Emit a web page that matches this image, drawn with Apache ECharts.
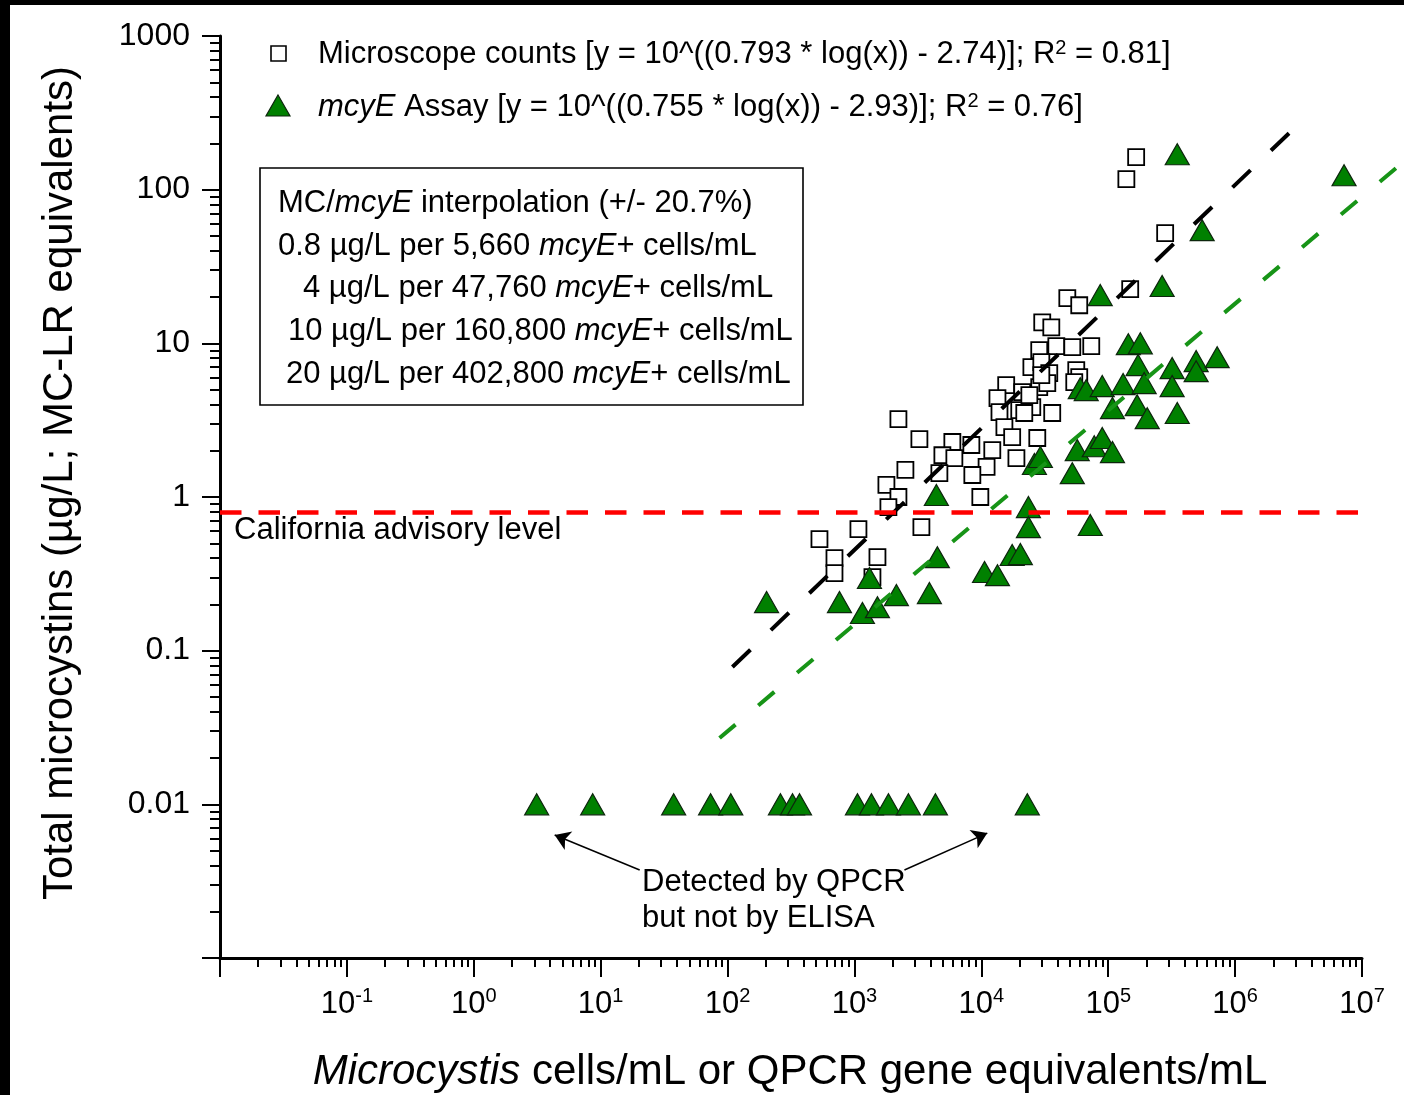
<!DOCTYPE html>
<html><head><meta charset="utf-8">
<script src="https://cdn.jsdelivr.net/npm/echarts@6/dist/echarts.min.js"></script>
<style>html,body{margin:0;padding:0;background:#fff}#c{width:1404px;height:1095px}</style>
</head><body><div id="c"></div>
<script>
const FONT = '"Liberation Sans", Arial, Helvetica, sans-serif';

// Microscope counts: cells/mL vs total microcystins (µg/L)
const squareX = [1.66e5, 1.39e5, 2.81e5, 1.49e5, 4.76e4, 5.91e4, 3.02e4, 3.56e4, 2.86e4, 3.90e4, 5.21e4, 7.35e4, 2.48e4, 2.97e4, 3.43e4, 5.60e4, 5.91e4, 5.40e4, 1.57e4, 1.34e4, 2.10e4, 2.86e4, 1.39e4, 1.99e4, 2.52e4, 2.18e4, 3.62e4, 1.52e4, 1.75e4, 2.76e4, 1.22e4, 1.89e4, 1.10e4, 2221, 3250, 2521, 1786, 2221, 1852, 5910, 4932, 6130, 8343, 4670, 8494, 9820, 3.31e4, 2.97e4, 530, 696, 696, 1075, 1518, 1386, 3370, 2.39e4];
const squareY = [163, 117, 52.1, 22.5, 19.7, 17.7, 13.7, 12.7, 9.03, 9.59, 9.45, 9.59, 7.00, 7.55, 6.40, 6.69, 6.03, 5.59, 5.35, 4.40, 4.81, 5.19, 3.57, 3.68, 3.85, 3.52, 3.52, 2.85, 2.45, 2.42, 2.02, 1.79, 1.57, 3.21, 2.38, 1.50, 1.20, 1.00, 0.86, 2.28, 1.87, 1.79, 2.18, 1.43, 1.39, 1.00, 5.51, 6.21, 0.532, 0.400, 0.320, 0.618, 0.406, 0.301, 0.637, 4.60];

// mcyE assay: QPCR gene equivalents/mL vs total microcystins (µg/L)
const triX = [3.50e5, 7.22e6, 5.50e5, 2.66e5, 8.65e4, 1.44e5, 1.79e5, 1.72e5, 3.19e5, 4.93e5, 7.22e5, 4.93e5, 6.02e4, 6.71e4, 8.97e4, 1.31e5, 1.92e5, 3.19e5, 1.08e5, 1.69e5, 2.03e5, 3.50e5, 5.70e4, 7.76e4, 8.97e4, 1.08e5, 2.62e4, 2.92e4, 5.21e4, 203, 762, 1313, 1156, 1518, 2141, 3896, 4503, 4423, 1.06e4, 1.34e4, 1.75e4, 2.03e4, 2.35e4, 2.35e4, 7.22e4];
const triY = [170, 124, 54.5, 23.6, 20.6, 9.88, 10.0, 7.22, 6.90, 7.66, 8.13, 6.59, 5.11, 4.96, 5.27, 5.43, 5.51, 5.27, 3.79, 3.96, 3.26, 3.52, 2.02, 2.14, 2.42, 1.96, 1.64, 1.82, 1.43, 0.207, 0.207, 0.297, 0.176, 0.192, 0.230, 0.237, 0.406, 1.03, 0.325, 0.310, 0.419, 0.425, 0.86, 0.637, 0.657];

// Detected by QPCR but not by ELISA (plotted at 0.01)
const ndX = [3.13, 8.65, 37.6, 73.5, 106, 261, 325, 369, 1056, 1361, 1853, 2662, 4345, 23030];
const ndY = [0.01, 0.01, 0.01, 0.01, 0.01, 0.01, 0.01, 0.01, 0.01, 0.01, 0.01, 0.01, 0.01, 0.01];

// Regression lines (end points as drawn; listed from the upper end)
const fitMicroX = [2.66e6, 109];
const fitMicroY = [233, 0.0782];
const fitMcyEX = [1.85e7, 86.5];
const fitMcyEY = [138, 0.027];

const advisoryLevel = 0.8;

// Annotation arrows (from text to points)
const arrowStart = [[20.3, 0.00374], [2477, 0.00374]];
const arrowEnd = [[4.34, 0.00631], [11140, 0.0065]];

// Ticks
const xTickValues = [0.01, 0.1, 1, 10, 100, 1000, 1e4, 1e5, 1e6, 1e7];
const xTickLabels = ['', '-1', '0', '1', '2', '3', '4', '5', '6', '7'];
const yTickValues = [0.001, 0.01, 0.1, 1, 10, 100, 1000];
const yTickLabels = ['', '0.01', '0.1', '1', '10', '100', '1000'];

function minorOf(vals) {
  const out = [];
  for (let i = 0; i < vals.length - 1; i++) {
    for (let k = 2; k <= 9; k++) out.push(parseFloat((k * vals[i]).toPrecision(6)));
  }
  return out;
}
const xMinor = minorOf(xTickValues);
const yMinor = minorOf(yTickValues);

function findIdx(vals, v) {
  let best = 0, bd = Infinity;
  for (let i = 0; i < vals.length; i++) {
    const d = Math.abs(Math.log10(vals[i]) - Math.log10(v));
    if (d < bd) { bd = d; best = i; }
  }
  return bd < 1e-3 ? best : -1;
}

const zip = (a, b) => a.map((x, i) => [x, b[i]]);

const chart = echarts.init(document.getElementById('c'), null, {renderer: 'canvas'});

const TXT = 31;
const rich = {
  n: {fontSize: TXT, fontFamily: FONT, fill: '#000', color: '#000'},
  i: {fontSize: TXT, fontFamily: FONT, fontStyle: 'italic', fill: '#000', color: '#000'},
  s: {fontSize: 20, fontFamily: FONT, fill: '#000', color: '#000', verticalAlign: 'top', lineHeight: 20}
};
function txt(x, y, text, extra) {
  return Object.assign({
    type: 'text', x: x, y: y, silent: true,
    style: {text: text, rich: rich, fontSize: TXT, fontFamily: FONT, fill: '#000',
            align: 'left', verticalAlign: 'middle', textAlign: 'left', textVerticalAlign: 'middle'}
  }, extra || {});
}

const triStyle = {color: '#008000', borderColor: '#0d260d', borderWidth: 1.2, opacity: 1};

// draws a fitted segment between two data points through the axis scales
function segmentRenderer(color, dash) {
  return function (params, api) {
    const p1 = api.coord([api.value(0), api.value(1)]);
    const p2 = api.coord([api.value(2), api.value(3)]);
    return {
      type: 'line',
      shape: {x1: p1[0], y1: p1[1], x2: p2[0], y2: p2[1]},
      style: {stroke: color, lineWidth: 4, lineDash: dash, fill: null}
    };
  };
}

const option = {
  animation: false,
  backgroundColor: '#fff',
  textStyle: {fontFamily: FONT},
  grid: {left: 220, right: 42, top: 36, bottom: 137, containLabel: false, outerBoundsMode: 'none'},
  xAxis: [
    {
      type: 'log', logBase: 10, min: 0.01, max: 1e7, position: 'bottom',
      axisLine: {show: true, onZero: false, lineStyle: {color: '#000', width: 3}},
      axisTick: {show: true, inside: false, length: 19, customValues: xTickValues, lineStyle: {color: '#000', width: 2}},
      axisLabel: {
        show: true, customValues: xTickValues, margin: 28, showMinLabel: true, showMaxLabel: true,
        formatter: function (v) {
          const i = findIdx(xTickValues, v);
          if (i < 0 || xTickLabels[i] === '') return '';
          return '{b|10}{s|' + xTickLabels[i] + '}';
        },
        rich: {
          b: {fontSize: 31, fontFamily: FONT, color: '#000', lineHeight: 36},
          s: {fontSize: 20, fontFamily: FONT, color: '#000', lineHeight: 18, verticalAlign: 'top'}
        }
      },
      splitLine: {show: false}, minorTick: {show: false}, minorSplitLine: {show: false}
    },
    {
      type: 'log', logBase: 10, min: 0.01, max: 1e7, position: 'bottom',
      axisLine: {show: false, onZero: false},
      axisTick: {show: true, inside: false, length: 9, customValues: xMinor, lineStyle: {color: '#000', width: 2}},
      axisLabel: {show: false},
      splitLine: {show: false}
    }
  ],
  yAxis: [
    {
      type: 'log', logBase: 10, min: 0.001, max: 1000, position: 'left',
      axisLine: {show: true, onZero: false, lineStyle: {color: '#000', width: 3}},
      axisTick: {show: true, inside: false, length: 18, customValues: yTickValues, lineStyle: {color: '#000', width: 2}},
      axisLabel: {
        show: true, customValues: yTickValues, margin: 30, showMinLabel: true, showMaxLabel: true,
        fontSize: 32, fontFamily: FONT, color: '#000',
        formatter: function (v) {
          const i = findIdx(yTickValues, v);
          return i < 0 ? '' : yTickLabels[i];
        }
      },
      splitLine: {show: false}, minorTick: {show: false}
    },
    {
      type: 'log', logBase: 10, min: 0.001, max: 1000, position: 'left',
      axisLine: {show: false, onZero: false},
      axisTick: {show: true, inside: false, length: 10, customValues: yMinor, lineStyle: {color: '#000', width: 2}},
      axisLabel: {show: false},
      splitLine: {show: false}
    }
  ],
  series: [
    {
      name: 'Microscope counts', type: 'scatter', xAxisIndex: 0, yAxisIndex: 0,
      data: zip(squareX, squareY), symbol: 'rect', symbolSize: 16,
      itemStyle: {color: '#fff', borderColor: '#000', borderWidth: 1.8, opacity: 1}, z: 3
    },
    {
      name: 'mcyE Assay', type: 'scatter', xAxisIndex: 0, yAxisIndex: 0,
      data: zip(triX, triY), symbol: 'triangle', symbolSize: [24, 21],
      itemStyle: triStyle, z: 4
    },
    {
      name: 'mcyE Assay (ND)', type: 'scatter', xAxisIndex: 0, yAxisIndex: 0,
      data: zip(ndX, ndY), symbol: 'triangle', symbolSize: [24, 21],
      itemStyle: triStyle, z: 4,
      markLine: {
        silent: true, symbol: ['none', 'arrow'], symbolSize: 15,
        label: {show: false},
        lineStyle: {color: '#000', width: 1.5, type: 'solid'},
        data: arrowStart.map((s, i) => [{coord: s}, {coord: arrowEnd[i]}])
      }
    },
    {
      name: 'Microscope fit', type: 'custom', xAxisIndex: 0, yAxisIndex: 0, clip: false, z: 5,
      data: [[fitMicroX[0], fitMicroY[0], fitMicroX[1], fitMicroY[1]]],
      encode: {x: [0, 2], y: [1, 3]},
      renderItem: segmentRenderer('#000', [25, 28.3]),
      markLine: {
        silent: true, symbol: ['none', 'none'], label: {show: false},
        lineStyle: {color: '#ff0000', width: 4.5, type: [21.5, 17]},
        data: [{yAxis: advisoryLevel}], z: 6
      }
    },
    {
      name: 'mcyE fit', type: 'custom', xAxisIndex: 0, yAxisIndex: 0, clip: false, z: 5,
      data: [[fitMcyEX[0], fitMcyEY[0], fitMcyEX[1], fitMcyEY[1]]],
      encode: {x: [0, 2], y: [1, 3]},
      renderItem: segmentRenderer('#179417', [21, 29.8])
    }
  ],
  graphic: [
    {type: 'rect', silent: true, shape: {x: 0, y: 0, width: 1404, height: 5}, style: {fill: '#000'}},
    {type: 'rect', silent: true, shape: {x: 0, y: 0, width: 10, height: 1095}, style: {fill: '#000'}},
    // legend
    {type: 'rect', silent: true, shape: {x: 271, y: 46, width: 15, height: 15}, style: {fill: '#fff', stroke: '#000', lineWidth: 1.6}},
    {type: 'polygon', silent: true, shape: {points: [[278, 95], [290, 116], [266, 116]]}, style: {fill: '#008000', stroke: '#0d260d', lineWidth: 1.2}},
    txt(318, 54, '{n|Microscope counts [y = 10^((0.793 * log(x)) - 2.74)]; R}{s|2}{n| = 0.81]}'),
    txt(318, 107, '{i|mcyE}{n| Assay [y = 10^((0.755 * log(x)) - 2.93)]; R}{s|2}{n| = 0.76]}'),
    // interpolation box
    {type: 'rect', silent: true, shape: {x: 260, y: 168, width: 543, height: 237}, style: {fill: 'none', stroke: '#000', lineWidth: 1.6}},
    txt(278, 203, '{n|MC/}{i|mcyE}{n| interpolation (+/- 20.7%)}'),
    txt(278, 246, '{n|0.8 µg/L per 5,660 }{i|mcyE}{n|+ cells/mL}'),
    txt(303, 288, '{n|4 µg/L per 47,760 }{i|mcyE}{n|+ cells/mL}'),
    txt(288, 331, '{n|10 µg/L per 160,800 }{i|mcyE}{n|+ cells/mL}'),
    txt(286, 374, '{n|20 µg/L per 402,800 }{i|mcyE}{n|+ cells/mL}'),
    // annotations
    txt(234, 530, '{n|California advisory level}'),
    txt(642, 882, '{n|Detected by QPCR}'),
    txt(642, 918, '{n|but not by ELISA}'),
    // axis titles
    {type: 'text', silent: true, x: 790, y: 1072,
     style: {text: '{ti|Microcystis}{t| cells/mL or QPCR gene equivalents/mL}',
             rich: {t: {fontSize: 42, fontFamily: FONT, fill: '#000'}, ti: {fontSize: 42, fontFamily: FONT, fontStyle: 'italic', fill: '#000'}},
             fontSize: 42, fontFamily: FONT, fill: '#000', align: 'center', verticalAlign: 'middle', textAlign: 'center', textVerticalAlign: 'middle'}},
    {type: 'text', silent: true, x: 60, y: 483, rotation: Math.PI / 2,
     style: {text: 'Total microcystins (µg/L; MC-LR equivalents)', fontSize: 42, fontFamily: FONT, fill: '#000',
             align: 'center', verticalAlign: 'middle', textAlign: 'center', textVerticalAlign: 'middle'}}
  ]
};
chart.setOption(option);
</script>
</body></html>
